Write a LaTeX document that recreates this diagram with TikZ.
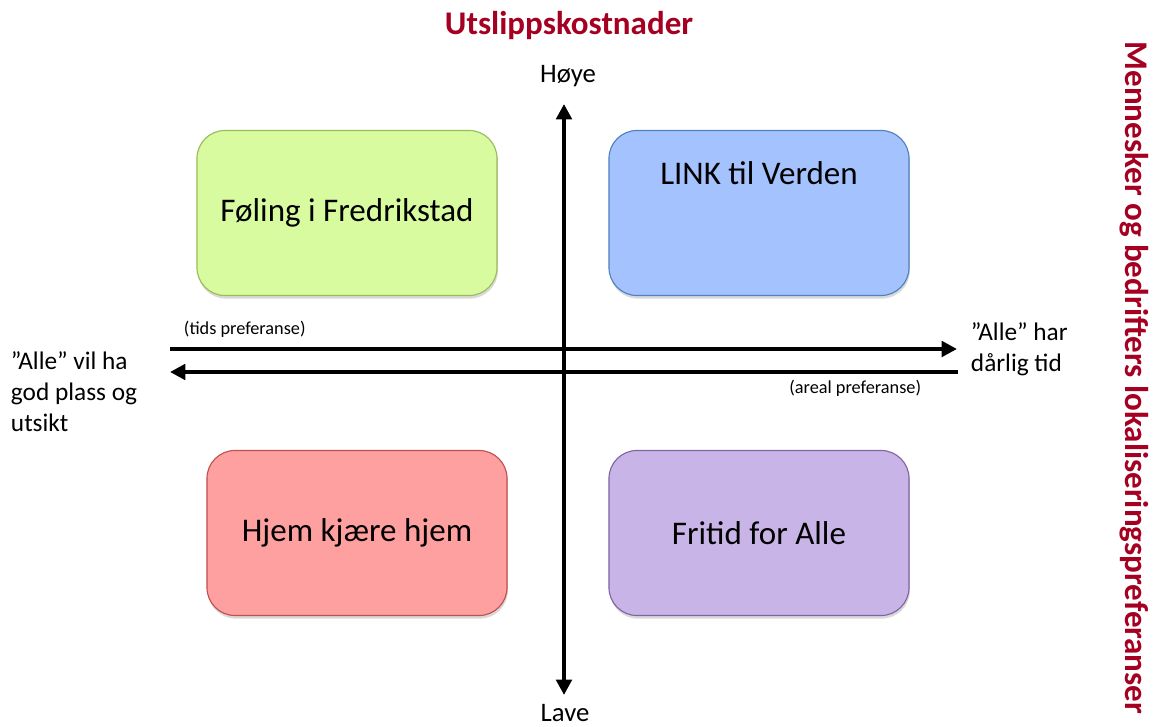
\documentclass[tikz,border=0pt]{standalone}
\usepackage{fontspec}
\setmainfont{Carlito}
\usetikzlibrary{
    arrows.meta,  % arrow tips
    shadows,  % drop shadows under the boxes
}
\definecolor{headred}{RGB}{165,0,33}
\definecolor{greenfill}{RGB}{216,251,160}
\definecolor{greenline}{RGB}{155,187,89}
\definecolor{bluefill}{RGB}{164,194,254}
\definecolor{blueline}{RGB}{79,129,189}
\definecolor{redfill}{RGB}{255,160,160}
\definecolor{redline}{RGB}{192,80,77}
\definecolor{lilacfill}{RGB}{201,180,232}
\definecolor{lilacline}{RGB}{128,100,162}

\tikzset{
    quad/.style={draw, line width=0.8pt, rounded corners=0.7cm,
        minimum width=7.5cm, minimum height=4.125cm,
        drop shadow={shadow xshift=0.6pt, shadow yshift=-2.2pt, opacity=0.3},
        font=\fontsize{23.5}{28}\selectfont},
    axisline/.style={line width=2.8pt},
    tip/.style={-{Triangle[length=11pt, width=11pt]}},
    heading/.style={text=headred, font=\fontsize{23.5}{28}\selectfont\bfseries},
    sidetext/.style={font=\fontsize{18}{22}\selectfont, align=left},
    smalltext/.style={font=\fontsize{13}{15}\selectfont},
}

\begin{document}
\begin{tikzpicture}[x=0.025cm, y=-0.025cm]
    \useasboundingbox (0, 0) rectangle (1159, 727);

    % headings
    \node[heading] (utslipp) at (569, 26) {Utslippskostnader};
    \node[heading, rotate=-90] (lokal) at (1134, 378) {Mennesker og bedrifters lokaliseringspreferanser};

    % quadrants
    \node[quad, fill=greenfill, draw=greenline] (foling) at (347, 213) {Føling i Fredrikstad};
    \node[quad, fill=bluefill, draw=blueline] (link) at (759, 213) {};
    \node[font=\fontsize{23.5}{28}\selectfont] (linktxt) at (759, 173) {LINK til Verden};
    \node[quad, fill=redfill, draw=redline] (hjem) at (357, 533) {Hjem kjære hjem};
    \node[quad, fill=lilacfill, draw=lilacline] (fritid) at (759, 533) {Fritid for Alle};

    % vertical axis
    \node[font=\fontsize{19}{23}\selectfont] (hoye) at (568, 76) {Høye};
    \node[font=\fontsize{19}{23}\selectfont, inner sep=1pt] (lave) at (565, 713) {Lave};
    \coordinate (vtop) at (564, 104);
    \coordinate (vbot) at (564, 695);
    \draw[axisline, {Triangle[length=11pt, width=11pt]}-{Triangle[length=11pt, width=11pt]}] (vtop) -- (vbot);

    % horizontal axes
    \coordinate (tidsA) at (170, 349);
    \coordinate (tidsB) at (957, 349);
    \coordinate (arealA) at (958, 372);
    \coordinate (arealB) at (170, 372);
    \draw[axisline, tip] (tidsA) -- (tidsB);
    \draw[axisline, tip] (arealA) -- (arealB);

    \node[smalltext, anchor=west] (tids) at (179, 329) {(tids preferanse)};
    \node[smalltext, anchor=east] (areal) at (926, 388) {(areal preferanse)};
    \node[sidetext, anchor=west] (travel) at (966, 349) {”Alle” har\\dårlig tid};
    \node[sidetext, anchor=west] (plass) at (6, 392) {”Alle” vil ha\\god plass og\\utsikt};
\end{tikzpicture}
\end{document}
